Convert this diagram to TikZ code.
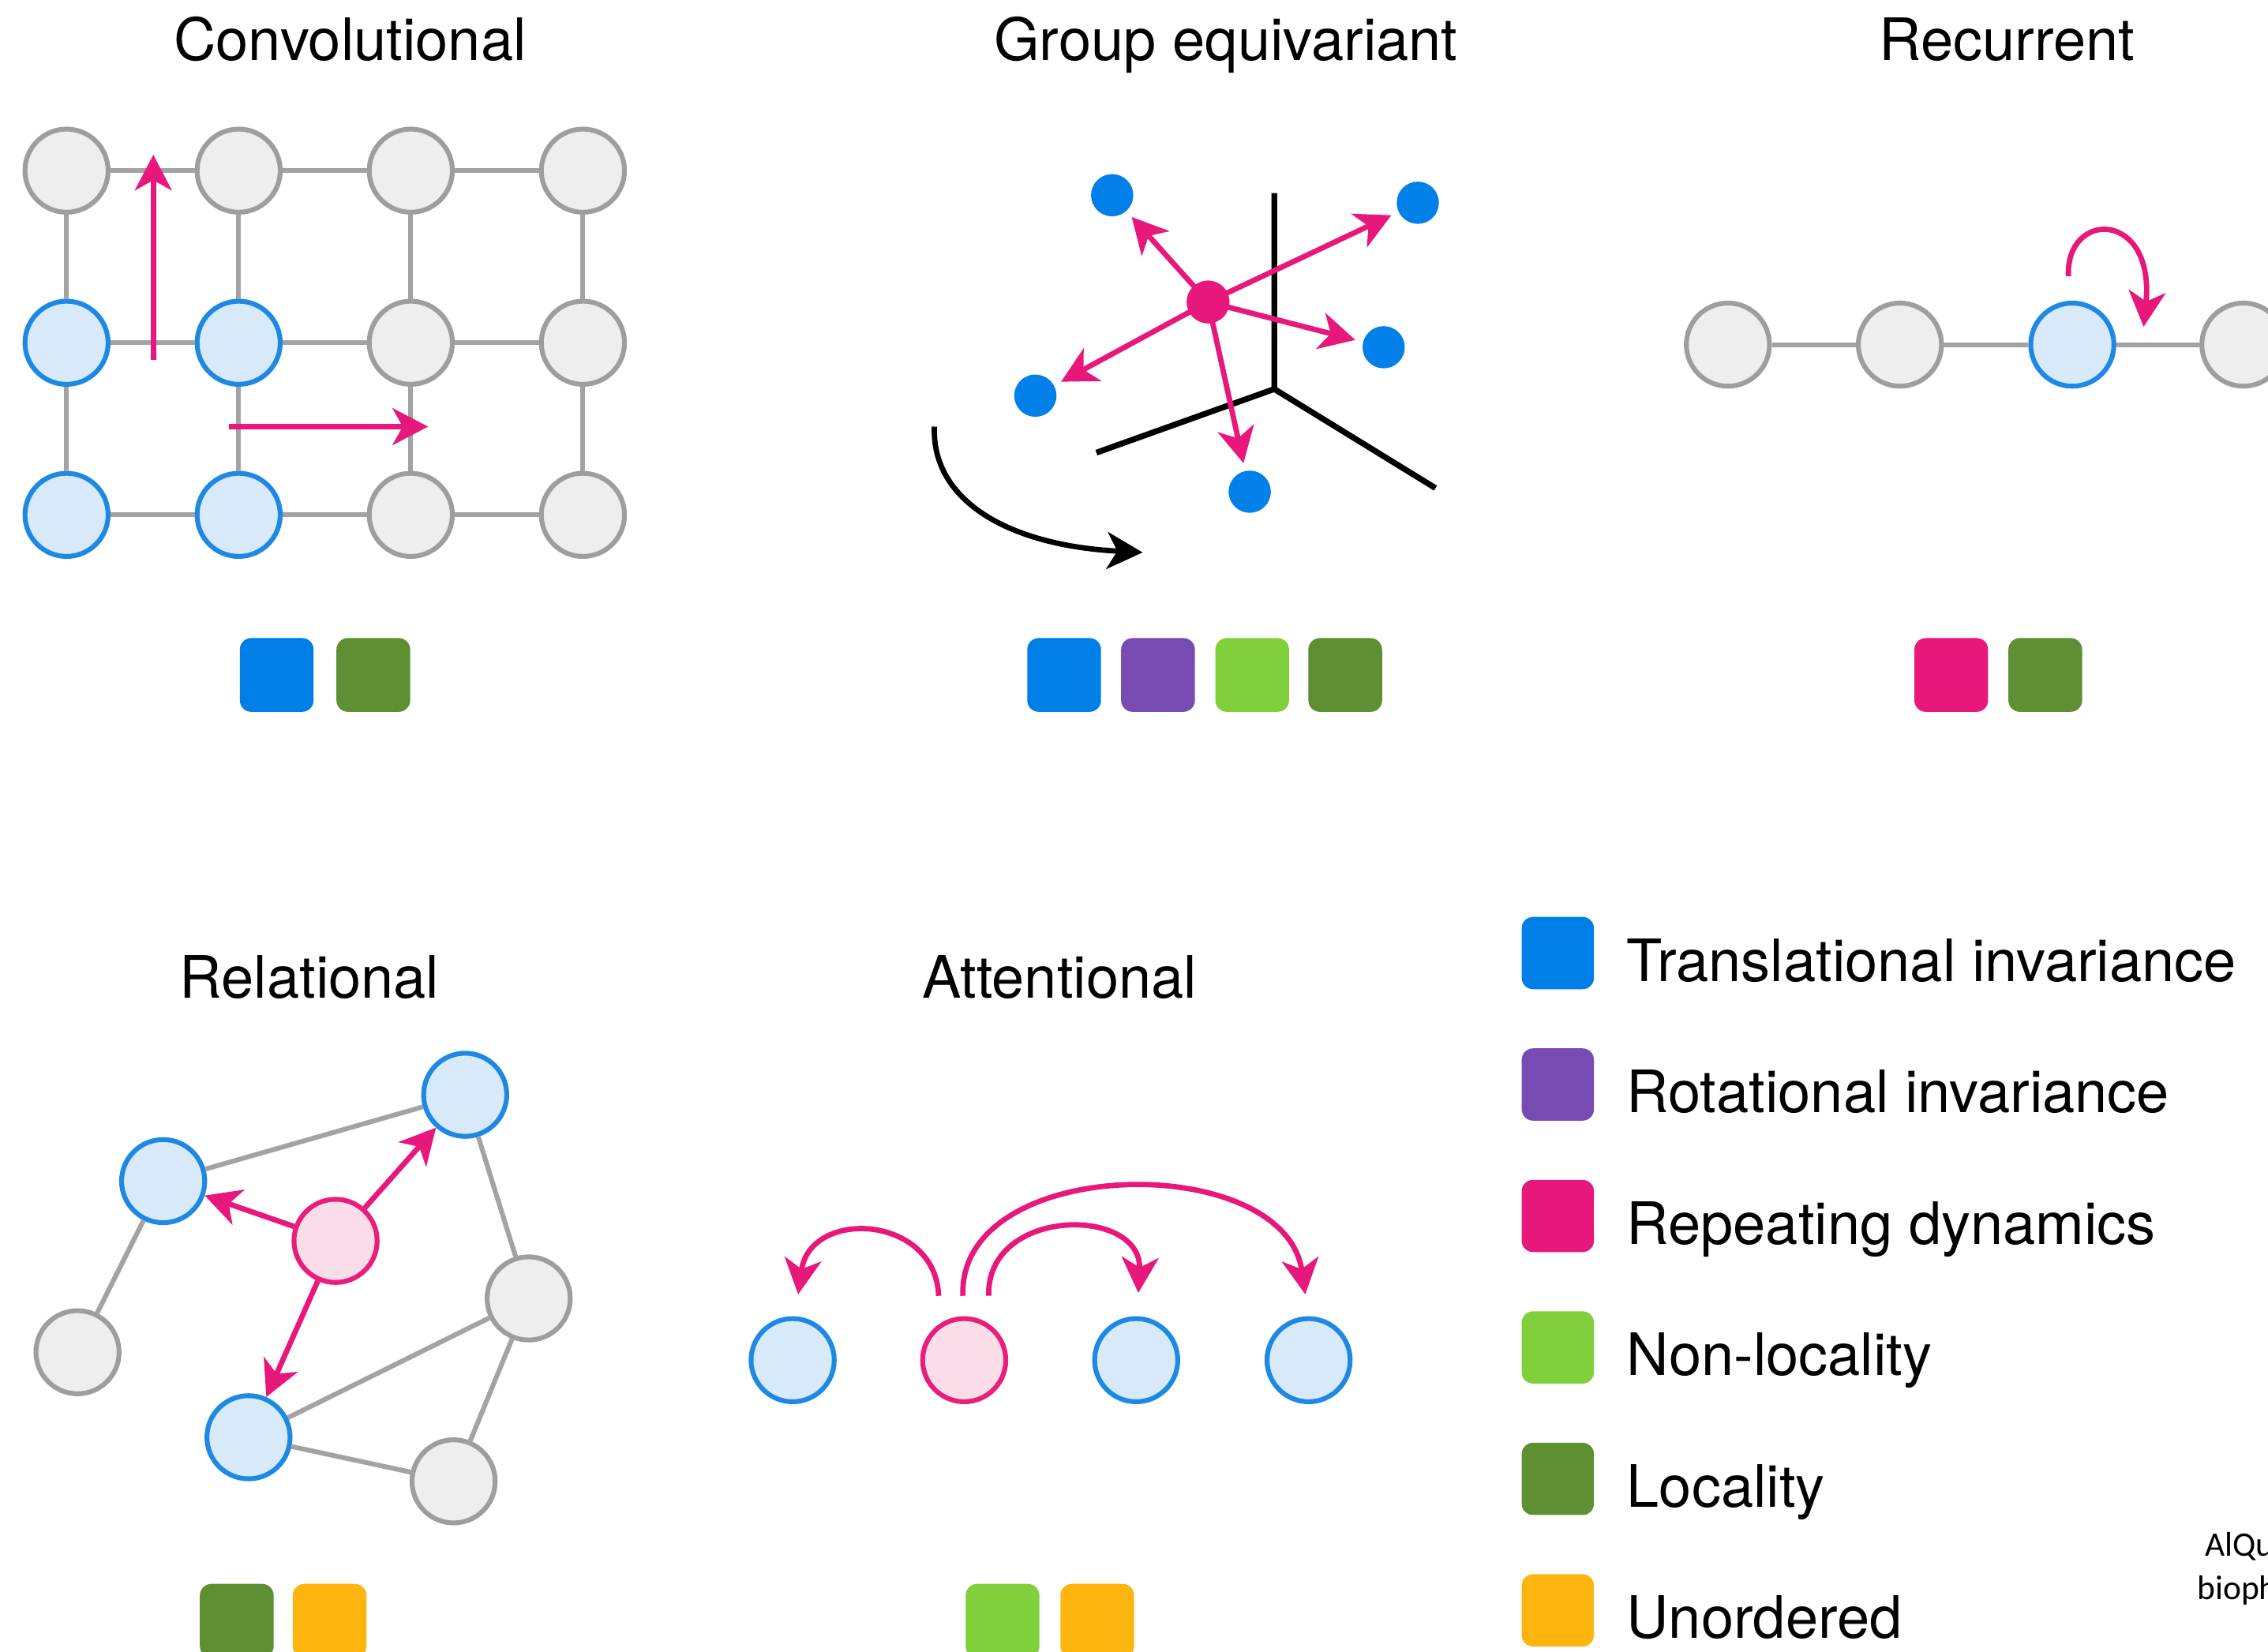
\documentclass[tikz,border=0pt]{standalone}
\usepackage{fontspec}
\setmainfont{TeX Gyre Heros}
\newfontfamily\citefont{Carlito}
\usetikzlibrary{arrows.meta}

\definecolor{nodegray}{HTML}{EEEEEE}
\definecolor{nodegrayline}{HTML}{9E9E9E}
\definecolor{edgegray}{HTML}{A3A3A3}
\definecolor{bluefill}{HTML}{D8EAFA}
\definecolor{blueline}{HTML}{1E88E5}
\definecolor{pinkfill}{HTML}{FBDCE9}
\definecolor{pinkline}{HTML}{E91E7A}
\definecolor{arrowpink}{HTML}{E8177B}
\definecolor{dotblue}{HTML}{0080E8}
\definecolor{ptblue}{HTML}{007EE8}
\definecolor{ptpurple}{HTML}{774BB2}
\definecolor{ptmagenta}{HTML}{E8177B}
\definecolor{ptlgreen}{HTML}{7FD03B}
\definecolor{ptdgreen}{HTML}{5E8F32}
\definecolor{ptorange}{HTML}{FFB50F}

\begin{document}
\begin{tikzpicture}[x=0.02cm, y=-0.02cm,
  gnode/.style={circle, minimum size=1.15cm, inner sep=0pt, line width=1.9pt,
                draw=nodegrayline, fill=nodegray},
  bnode/.style={gnode, draw=blueline, fill=bluefill},
  pnode/.style={gnode, draw=pinkline, fill=pinkfill},
  link/.style={draw=edgegray, line width=1.9pt},
  tip/.style={-{Stealth[length=14pt, width=14.5pt, inset=4pt]}},
  parrow/.style={tip, draw=arrowpink, line width=2.1pt},
  axis/.style={draw=black, line width=2.3pt},
  dot/.style={circle, inner sep=0pt, minimum size=0.584cm},
  prop/.style={rounded corners=4.5pt, minimum size=1.02cm, inner sep=0pt},
  legsq/.style={rounded corners=4.5pt, minimum size=1.0cm, inner sep=0pt},
  title/.style={font=\fontsize{23}{27}\selectfont, anchor=base, inner sep=0pt},
  legtext/.style={font=\fontsize{23}{27}\selectfont, anchor=base west, inner sep=0pt},
  cite/.style={font=\citefont\fontsize{13.5}{16}\selectfont, anchor=base west, inner sep=0pt},
]
\useasboundingbox (0,0) rectangle (1568,1142);
\clip (0,0) rectangle (1568,1142);

% ---------- titles ----------
\node[title] (t-conv)  at (242,42)    {Convolutional};
\node[title] (t-group) at (847.5,42)  {Group equivariant};
\node[title] (t-rec)   at (1387.5,42) {Recurrent};
\node[title] (t-rel)   at (214,690)   {Relational};
\node[title] (t-att)   at (732.5,690) {Attentional};

% ---------- convolutional grid ----------
\node[gnode] (c11) at (46,118)  {};
\node[gnode] (c21) at (165,118) {};
\node[gnode] (c31) at (284,118) {};
\node[gnode] (c41) at (403,118) {};
\node[bnode] (c12) at (46,237)  {};
\node[bnode] (c22) at (165,237) {};
\node[gnode] (c32) at (284,237) {};
\node[gnode] (c42) at (403,237) {};
\node[bnode] (c13) at (46,356)  {};
\node[bnode] (c23) at (165,356) {};
\node[gnode] (c33) at (284,356) {};
\node[gnode] (c43) at (403,356) {};
\foreach \r in {1,2,3}{
  \draw[link] (c1\r) -- (c2\r);
  \draw[link] (c2\r) -- (c3\r);
  \draw[link] (c3\r) -- (c4\r);
}
\foreach \c in {1,2,3,4}{
  \draw[link] (c\c1) -- (c\c2);
  \draw[link] (c\c2) -- (c\c3);
}
\coordinate (cv-s) at (106,249);
\coordinate (cv-e) at (106,107);
\coordinate (ch-s) at (158,295);
\coordinate (ch-e) at (296,295);
\draw[parrow] (cv-s) -- (cv-e);
\draw[parrow] (ch-s) -- (ch-e);

% ---------- group equivariant ----------
\coordinate (ax-o)  at (881,269);
\coordinate (ax-up) at (881,133.5);
\coordinate (ax-l)  at (758,313);
\coordinate (ax-r)  at (992.4,337.5);
\draw[axis] (ax-up) -- (ax-o) -- (ax-l);
\draw[axis] (ax-o) -- (ax-r);

\node[dot, fill=dotblue] (g1) at (768.9,135)   {};
\node[dot, fill=dotblue] (g2) at (980.2,140.2) {};
\node[dot, fill=dotblue] (g3) at (956.6,240.1) {};
\node[dot, fill=dotblue] (g4) at (715.8,273.6) {};
\node[dot, fill=dotblue] (g5) at (864,340)     {};
\foreach \d in {g1,g2,g3,g4,g5}
  \draw[parrow, shorten >=3pt] (835.2,208.8) -- (\d);
\node[dot, fill=arrowpink, minimum size=0.594cm] (gc) at (835.2,208.8) {};

\coordinate (rot-s) at (646,295);
\coordinate (rot-e) at (790,382);
\draw[tip, line width=2.1pt] (rot-s) .. controls (644,345) and (695,377) .. (rot-e);

% ---------- recurrent ----------
\node[gnode] (r1) at (1194.6,238.3) {};
\node[gnode] (r2) at (1313.5,238.3) {};
\node[bnode] (r3) at (1432.7,238.3) {};
\node[gnode] (r4) at (1551,238.3)   {};
\draw[link] (r1) -- (r2);
\draw[link] (r2) -- (r3);
\draw[link] (r3) -- (r4);
\coordinate (rec-s) at (1430,191);
\coordinate (rec-e) at (1482,226);
\draw[parrow] (rec-s) .. controls (1428,145) and (1490,145) .. (rec-e);

% ---------- relational ----------
\node[bnode] (rl-a) at (112.8,816.7)  {};
\node[bnode] (rl-b) at (321.6,757)    {};
\node[pnode] (rl-p) at (232,858)      {};
\node[gnode] (rl-c) at (365.5,897.8)  {};
\node[gnode] (rl-d) at (53.6,935)     {};
\node[bnode] (rl-e) at (171.8,993.8)  {};
\node[gnode] (rl-f) at (313.6,1024.3) {};
\draw[link] (rl-a) -- (rl-b);
\draw[link] (rl-a) -- (rl-d);
\draw[link] (rl-b) -- (rl-c);
\draw[link] (rl-c) -- (rl-e);
\draw[link] (rl-c) -- (rl-f);
\draw[link] (rl-e) -- (rl-f);
\draw[parrow] (rl-p) -- (rl-a);
\draw[parrow] (rl-p) -- (rl-b);
\draw[parrow] (rl-p) -- (rl-e);

% ---------- attentional ----------
\node[bnode] (at1) at (548,940.5)   {};
\node[pnode] (at2) at (666.6,940.5) {};
\node[bnode] (at3) at (785.5,940.5) {};
\node[bnode] (at4) at (904.7,940.5) {};
\coordinate (a1-s) at (648.9,896);
\coordinate (a1-e) at (551.8,895);
\coordinate (a2-s) at (683.5,896);
\coordinate (a2-e) at (787,894);
\coordinate (a3-s) at (665.7,896);
\coordinate (a3-e) at (902.4,895);
\draw[parrow] (a1-s) .. controls (647,840) and (560,835) .. (a1-e);
\draw[parrow] (a2-s) .. controls (682,834) and (790,834) .. (a2-e);
\draw[parrow] (a3-s) .. controls (662,798) and (888,795) .. (a3-e);

% ---------- property markers ----------
\node[prop, fill=ptblue]    (pc1) at (191.3,466.7) {};
\node[prop, fill=ptdgreen]  (pc2) at (258.1,466.7) {};
\node[prop, fill=ptblue]    (pg1) at (735.7,466.7) {};
\node[prop, fill=ptpurple]  (pg2) at (800.6,466.7) {};
\node[prop, fill=ptlgreen]  (pg3) at (865.7,466.7) {};
\node[prop, fill=ptdgreen]  (pg4) at (930,466.7)   {};
\node[prop, fill=ptmagenta] (pr1) at (1349,466.7)  {};
\node[prop, fill=ptdgreen]  (pr2) at (1414,466.7)  {};
\node[prop, fill=ptdgreen]  (pl1) at (163.7,1120.7) {};
\node[prop, fill=ptorange]  (pl2) at (227.9,1120.7) {};
\node[prop, fill=ptlgreen]  (pa1) at (693.1,1120.7) {};
\node[prop, fill=ptorange]  (pa2) at (758.6,1120.7) {};

% ---------- legend ----------
\foreach \k/\col/\txt in {0/ptblue/Translational invariance,
                          1/ptpurple/Rotational invariance,
                          2/ptmagenta/Repeating dynamics,
                          3/ptlgreen/Non-locality,
                          4/ptdgreen/Locality,
                          5/ptorange/Unordered}{
  \node[legsq, fill=\col] (leg-sq-\k) at (1077,659+90.9*\k) {};
  \node[legtext] (leg-tx-\k) at (1124.3,678.5+90.9*\k) {\txt};
}

% ---------- source note (runs past the right edge) ----------
\node[cite] (cite-1) at (1524,1076.2)   {AlQu};
\node[cite] (cite-2) at (1518.7,1106.1) {bioph};
\end{tikzpicture}
\end{document}
